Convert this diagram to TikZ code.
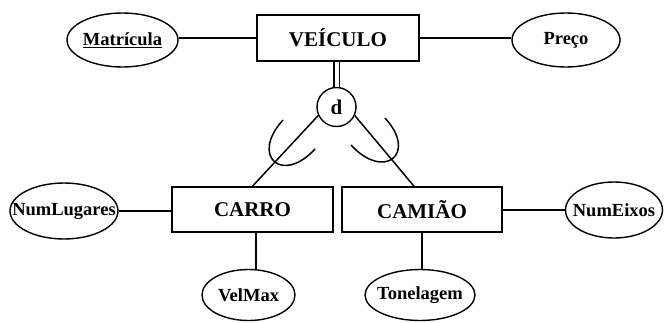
\documentclass[tikz,border=0pt]{standalone}
\usepackage{fontspec}
\setmainfont{Liberation Serif}
\usetikzlibrary{shapes.geometric,calc}
\begin{document}
\begin{tikzpicture}[x=1pt,y=-1pt,
  ent/.style={draw,line width=1.6pt,rectangle,inner sep=0pt,font=\fontsize{21}{24}\selectfont\bfseries},
  attr/.style={draw,line width=1.4pt,ellipse,inner sep=0pt,font=\fontsize{18.5}{20}\selectfont\bfseries},
  conn/.style={line width=1.5pt},
  spec/.style={draw,circle,line width=1.4pt,inner sep=0pt,minimum size=39pt,font=\fontsize{21}{24}\selectfont\bfseries}
  ]
\useasboundingbox (0,0) rectangle (664,322);
% entities
\node[ent,minimum width=162pt,minimum height=46pt] (veiculo) at (338,38) {VEÍCULO};
\node[ent,minimum width=161pt,minimum height=45pt] (carro) at (252.5,209.5) {CARRO};
\node[ent,minimum width=160pt,minimum height=45pt] (camiao) at (422,209.5) {CAMIÃO};
% attributes
\node[attr,minimum width=111pt,minimum height=54pt] (matricula) at (122.5,40) {\makebox[0pt]{\underline{Matrícula}}};
\node[attr,minimum width=108pt,minimum height=54pt] (preco) at (566,40) {\makebox[0pt]{Preço}};
\node[attr,minimum width=108pt,minimum height=56pt] (numlugares) at (64,211) {\makebox[0pt]{NumLugares}};
\node[attr,minimum width=97pt,minimum height=56pt] (numeixos) at (614,210) {\makebox[0pt]{NumEixos}};
\node[attr,minimum width=93pt,minimum height=51pt] (velmax) at (248.5,295) {\makebox[0pt]{VelMax}};
\node[attr,minimum width=110pt,minimum height=51pt] (tonelagem) at (420,295) {\makebox[0pt]{Tonelagem}};
% specialization circle
\node[spec] (d) at (336.5,107) {d};
% connectors
\draw[conn] (veiculo.west) -- (veiculo.west -| matricula.east);
\draw[conn] (veiculo.east) -- (veiculo.east -| preco.west);
\draw[line width=1.3pt,double distance=4pt] (d.north) -- (d.north |- veiculo.south);
\draw[conn] (d.205) -- (carro.north);
\draw[conn] (d.335) -- ([xshift=-8pt]camiao.north);
\draw[conn] (numlugares.east) -- (numlugares.east -| carro.west);
\draw[conn] (numeixos.west) -- (numeixos.west -| camiao.east);
\path ($(carro.south)+(3.5,0)$) coordinate (cv);
\draw[conn] (cv) -- (cv |- velmax.north);
\draw[conn] (camiao.south) -- (camiao.south |- tonelagem.north);
% subset (union) arcs
\draw[conn] (283,120) .. controls (250,156) and (282,185) .. (315,149);
\draw[conn] (385,118) .. controls (418,154) and (384,181) .. (351,145);
\end{tikzpicture}
\end{document}
